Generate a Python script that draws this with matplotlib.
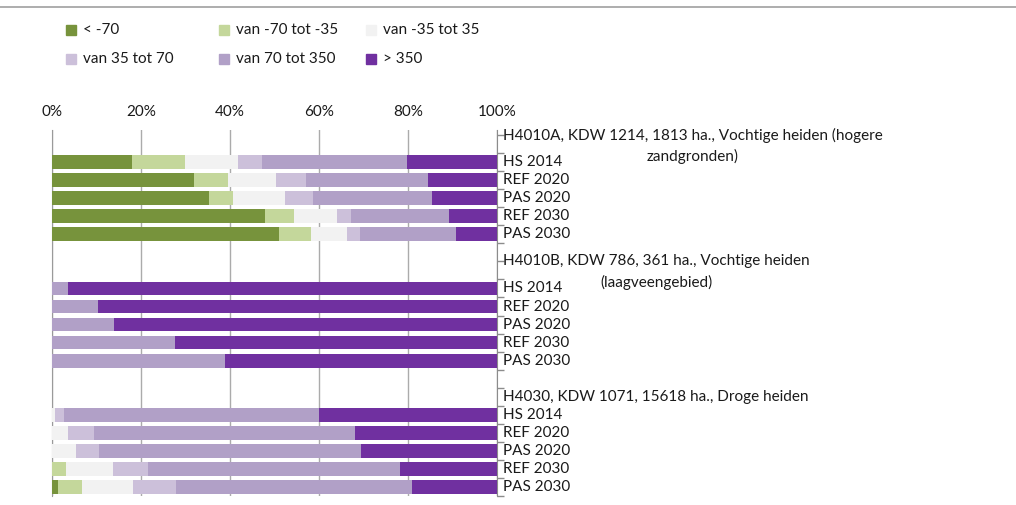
import matplotlib
matplotlib.use("Agg")
import matplotlib.pyplot as plt
from matplotlib.patches import Rectangle
import matplotlib.transforms as mtransforms
import numpy as np

plt.rcParams['font.family'] = ['Lato', 'DejaVu Sans']

series = ["< -70", "van -70 tot -35", "van -35 tot 35",
          "van 35 tot 70", "van 70 tot 350", "> 350"]
colors = ["#77933C", "#C4D79B", "#F2F2F2", "#CCC0DA", "#B1A0C7", "#7030A0"]

categories = [
    "H4010A, KDW 1214, 1813 ha., Vochtige heiden (hogere\nzandgronden)",
    "HS 2014", "REF 2020", "PAS 2020", "REF 2030", "PAS 2030",
    "",
    "H4010B, KDW 786, 361 ha., Vochtige heiden\n(laagveengebied)",
    "HS 2014", "REF 2020", "PAS 2020", "REF 2030", "PAS 2030",
    "",
    "H4030, KDW 1071, 15618 ha., Droge heiden",
    "HS 2014", "REF 2020", "PAS 2020", "REF 2030", "PAS 2030",
]
# Per series, one value per category (percent); headers/blank rows are 0
lt_m70 = [0, 17.9, 31.9, 35.3, 47.9, 51.0, 0, 0, 0, 0, 0, 0, 0, 0, 0, 0, 0, 0, 0, 1.3]
m70_m35 = [0, 12.0, 7.6, 5.4, 6.5, 7.2, 0, 0, 0, 0, 0, 0, 0, 0, 0, 0, 0, 0, 3.1, 5.4]
m35_35 = [0, 11.9, 10.8, 11.7, 9.7, 8.1, 0, 0, 0, 0, 0, 0, 0, 0, 0, 0.6, 3.5, 5.3, 10.6, 11.5]
p35_70 = [0, 5.4, 6.8, 6.3, 3.1, 2.9, 0, 0, 0, 0, 0, 0, 0, 0, 0, 2.0, 5.9, 5.2, 7.9, 9.7]
p70_350 = [0, 32.6, 27.4, 26.7, 22.1, 21.6, 0, 0, 3.5, 10.3, 13.9, 27.6, 38.9, 0, 0, 57.4, 58.7, 59.0, 56.7, 53.1]
gt_350 = [0, 20.2, 15.5, 14.6, 10.7, 9.2, 0, 0, 96.5, 89.7, 86.1, 72.4, 61.1, 0, 0, 40.0, 31.9, 30.5, 21.8, 19.1]
values = [lt_m70, m70_m35, m35_35, p35_70, p70_350, gt_350]
xticks = [0, 20, 40, 60, 80, 100]
xticklabels = ["0%", "20%", "40%", "60%", "80%", "100%"]

W, H = 1016, 505
fig = plt.figure(figsize=(W / 100, H / 100), dpi=100)
ax = fig.add_axes([52 / W, 1 - 496 / H, (497 - 52) / W, (496 - 130) / H])

y = np.arange(len(categories))
left = np.zeros(len(categories))
for name, vals, c in zip(series, values, colors):
    v = np.array(vals, dtype=float)
    ax.barh(y, v, left=left, height=0.76, color=c, edgecolor='none', zorder=3, label=name)
    left += v

ax.set_xlim(0, 100)
ax.set_ylim(len(categories) - 0.5, -0.78)
ax.set_xticks(xticks)
ax.set_xticklabels(xticklabels, fontsize=11)
ax.xaxis.tick_top()
ax.tick_params(axis='x', length=0, pad=8, colors='#1a1a1a')
ax.grid(axis='x', color='#ABABAB', linewidth=1, zorder=0)

ax.yaxis.tick_right()
ax.set_yticks([])
ax.set_yticks(np.arange(len(categories) + 1) - 0.5, minor=True)
ax.tick_params(axis='y', which='minor', length=5, color='#8C8C8C', width=1)

for s in ['top', 'bottom']:
    ax.spines[s].set_visible(False)
ax.spines['right'].set_color('#8C8C8C')
ax.spines['left'].set_color('#9A9A9A')

# category labels on the right
trans = mtransforms.blended_transform_factory(ax.transAxes, ax.transData)
lab_x = 1 + 6 / (497 - 52)
fig.canvas.draw()
renderer = fig.canvas.get_renderer()
for yi, lab in zip(y, categories):
    if not lab:
        continue
    lines = lab.split("\n")
    if len(lines) == 1:
        ax.text(lab_x, yi, lab, transform=trans, fontsize=11, ha='left',
                va='center', color='#1a1a1a')
    else:
        t1 = ax.text(lab_x, yi - 0.5, lines[0], transform=trans, fontsize=11,
                     ha='left', va='center', color='#1a1a1a')
        bb = t1.get_window_extent(renderer)
        cx = ax.transAxes.inverted().transform(((bb.x0 + bb.x1) / 2, 0))[0]
        ax.text(cx, yi + 0.68, lines[1], transform=trans, fontsize=11,
                ha='center', va='center', color='#1a1a1a')

# legend
leg_x = [66, 219, 366]
leg_y = [30, 59]
for i, (name, c) in enumerate(zip(series, colors)):
    xx = leg_x[i % 3]
    yy = leg_y[i // 3]
    fig.patches.append(Rectangle((xx / W, 1 - (yy + 5) / H), 10 / W, 10 / H,
                                 transform=fig.transFigure, color=c))
    fig.text((xx + 17) / W, 1 - yy / H, name, fontsize=11, va='center', ha='left',
             color='#1a1a1a')

fig.add_artist(plt.Line2D([0, 1], [1 - 7 / H, 1 - 7 / H], transform=fig.transFigure,
                          color='#A0A0A0', linewidth=1.2))

fig.savefig("out.png", dpi=100, facecolor='white')
